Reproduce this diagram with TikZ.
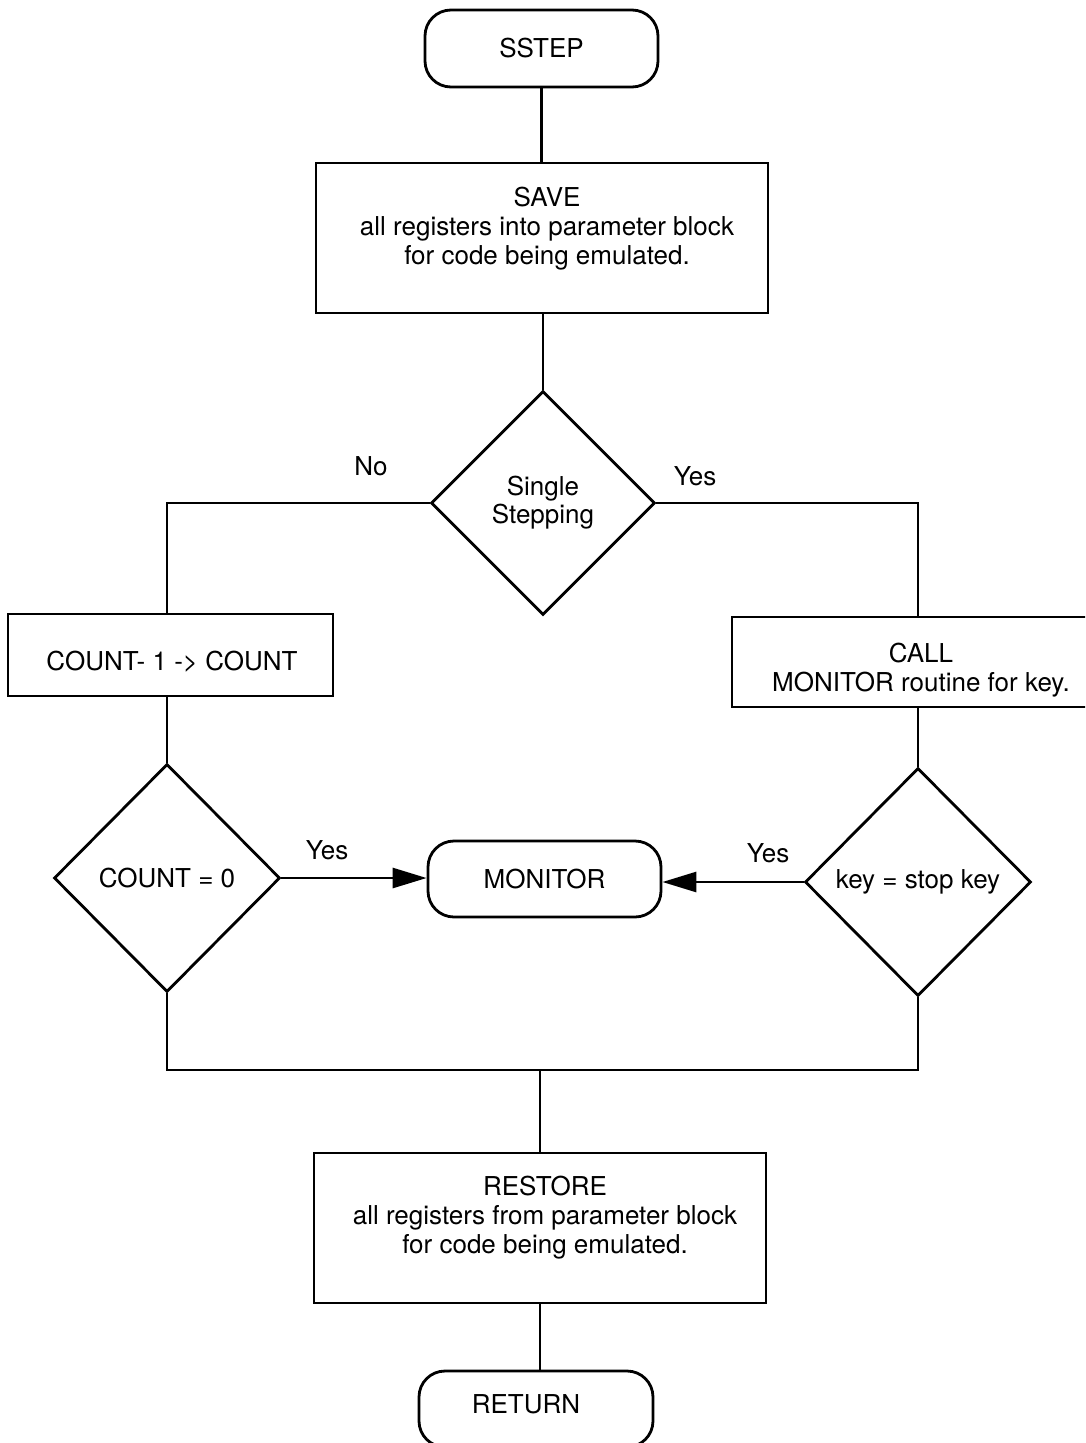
\documentclass[tikz,border=0pt]{standalone}
\usepackage{fontspec}
\setmainfont{TeX Gyre Heros}
\usetikzlibrary{shapes.geometric,arrows.meta}
\begin{document}
\begin{tikzpicture}[x=1pt,y=-1pt,
  line width=2.8pt,
  every node/.style={font=\fontsize{26}{29}\selectfont, inner sep=0pt},
  term/.style={draw, rounded corners=26pt, minimum width=233pt, minimum height=77pt},
  procbox/.style={draw, minimum width=452pt, minimum height=150pt},
  decision/.style={draw, diamond, align=center},
  txt/.style={align=center},
  flow/.style={-{Triangle[length=34pt,width=20pt]}}
]
\useasboundingbox (0,0) rectangle (1085,1443);
\fill[white] (0,0) rectangle (1085,1443);
\clip (0,0) rectangle (1085,1443);

% nodes
\node[term] (sstep) at (541.5,48.5) {SSTEP};
\node[procbox] (save) at (542,238) {};
\node[txt] (savet) at (547,229) {SAVE\\all registers into parameter block\\for code being emulated.};
\node[decision, minimum width=224pt, minimum height=224pt, font=\fontsize{26}{28}\selectfont] (d1) at (543,503) {Single\\Stepping};
\node[draw, minimum width=325pt, minimum height=82pt] (countb) at (170.5,655) {};
\node (countt) at (172,662) {COUNT- 1 -> COUNT};
\node[decision, minimum width=226pt, minimum height=228pt] (cz) at (167,878) {COUNT = 0};
\node[term, minimum width=233pt, minimum height=76pt] (mon) at (544.5,879) {MONITOR};
\node[draw, minimum width=368pt, minimum height=90pt] (callb) at (916,662) {};
\node[txt] (callt) at (921,670) {CALL\\MONITOR routine for key.};
\node[decision, minimum width=226pt, minimum height=228pt] (key) at (918,882) {key = stop key};
\node[procbox] (restore) at (540,1228) {};
\node[txt] (restoret) at (545,1218) {RESTORE\\all registers from parameter block\\for code being emulated.};
\node[term, minimum width=234pt, minimum height=76pt] (ret) at (536,1409) {};
\node (rett) at (526,1404) {RETURN};

% labels
\node (no) at (371,466) {No};
\node (yes1) at (695,476) {Yes};
\node (yes2) at (327,850) {Yes};
\node (yes3) at (768,853) {Yes};

% helper coordinates
\coordinate (lx) at (167,0);
\coordinate (rx) at (918,0);
\coordinate (jn) at (540,1070);

% connectors
\draw (sstep.south) -- (sstep.south |- save.north);
\draw (save.south -| d1.north) -- (d1.north);
\draw (d1.west) -| (lx |- countb.north);
\draw (d1.east) -| (rx |- callb.north);
\draw (lx |- countb.south) -- (cz.north);
\draw (rx |- callb.south) -- (key.north);
\draw[flow] (cz.east) -- (cz.east -| mon.west);
\draw[flow] (key.west) -- (key.west -| mon.east);
\draw (cz.south) -- (cz.south |- jn) -- (key.south |- jn) -- (key.south);
\draw (jn) -- (restore.north);
\draw (restore.south) -- (restore.south |- ret.north);
\end{tikzpicture}
\end{document}
